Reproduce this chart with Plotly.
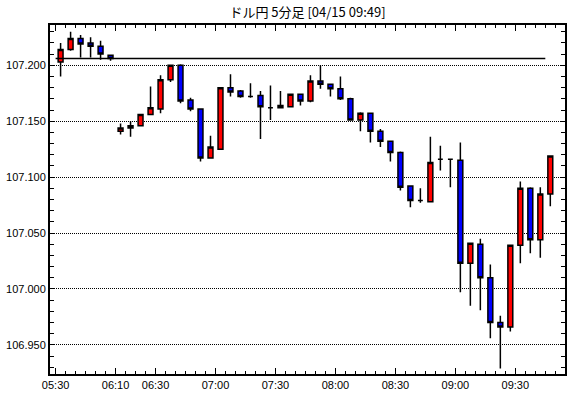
import plotly.graph_objects as go

times = ['05:30', '05:35', '05:40', '05:45', '05:50', '05:55',
         '06:10', '06:15', '06:20', '06:25', '06:30', '06:35', '06:40', '06:45', '06:50', '06:55',
         '07:00', '07:05', '07:10', '07:15', '07:20', '07:25', '07:30', '07:35', '07:40', '07:45',
         '07:50', '07:55', '08:00', '08:05', '08:10', '08:15', '08:20', '08:25', '08:30', '08:35',
         '08:40', '08:45', '08:50', '08:55', '09:00', '09:05', '09:10', '09:15', '09:20', '09:25',
         '09:30', '09:35', '09:40', '09:45']

opens = [107.203, 107.214, 107.224, 107.220, 107.217, 107.209,
         107.141, 107.144, 107.146, 107.156, 107.161, 107.187, 107.200, 107.169, 107.161, 107.117,
         107.125, 107.180, 107.177, 107.172, 107.173, 107.162, 107.162, 107.163, 107.174, 107.168,
         107.186, 107.183, 107.179, 107.170, 107.151, 107.157, 107.141, 107.132, 107.122, 107.092,
         107.079, 107.078, 107.116, 107.116, 107.115, 107.023, 107.040, 107.010, 106.970, 106.966,
         107.039, 107.090, 107.044, 107.085]
highs = [107.220, 107.230, 107.227, 107.225, 107.222, 107.209,
         107.148, 107.150, 107.156, 107.181, 107.191, 107.200, 107.201, 107.171, 107.161, 107.137,
         107.180, 107.192, 107.178, 107.184, 107.177, 107.182, 107.177, 107.174, 107.174, 107.191,
         107.200, 107.183, 107.190, 107.171, 107.158, 107.157, 107.143, 107.132, 107.123, 107.092,
         107.090, 107.136, 107.128, 107.116, 107.131, 107.041, 107.045, 107.022, 106.976, 107.039,
         107.096, 107.091, 107.091, 107.119]
lows = [107.190, 107.213, 107.207, 107.207, 107.205, 107.204,
        107.138, 107.136, 107.146, 107.156, 107.157, 107.185, 107.166, 107.159, 107.114, 107.117,
        107.125, 107.172, 107.171, 107.171, 107.134, 107.151, 107.162, 107.163, 107.164, 107.167,
        107.179, 107.172, 107.169, 107.151, 107.141, 107.131, 107.127, 107.114, 107.088, 107.073,
        107.077, 107.078, 107.106, 107.091, 106.997, 106.985, 106.981, 106.956, 106.929, 106.962,
        107.023, 107.032, 107.028, 107.074]
closes = [107.214, 107.224, 107.219, 107.217, 107.210, 107.206,
          107.144, 107.146, 107.156, 107.162, 107.187, 107.200, 107.168, 107.161, 107.117, 107.127,
          107.180, 107.176, 107.172, 107.172, 107.163, 107.162, 107.164, 107.174, 107.168, 107.186,
          107.183, 107.179, 107.170, 107.151, 107.157, 107.141, 107.132, 107.122, 107.091, 107.079,
          107.079, 107.113, 107.116, 107.116, 107.023, 107.041, 107.010, 106.970, 106.966, 107.039,
          107.090, 107.044, 107.085, 107.119]

ref_price = 107.206
tick_labels = ['05:30', '06:10', '06:30', '07:00', '07:30', '08:00', '08:30', '09:00', '09:30']
title_text = 'ドル円 5分足 [04/15 09:49]'

idx = list(range(len(times)))
tick_pos = [times.index(t) - 0.5 for t in tick_labels]

fig = go.Figure()
fig.add_trace(go.Candlestick(
    x=idx, open=opens, high=highs, low=lows, close=closes,
    increasing=dict(fillcolor='#ff0000', line=dict(color='black', width=1.5)),
    decreasing=dict(fillcolor='#0000ff', line=dict(color='black', width=1.5)),
    whiskerwidth=0, hoverinfo='skip', showlegend=False,
))
fig.add_trace(go.Scatter(
    x=[idx[0] - 0.5, idx[-1] - 0.5], y=[ref_price, ref_price], mode='lines',
    line=dict(color='black', width=1.5), hoverinfo='skip', showlegend=False,
))

tfont = dict(family='Liberation Sans, Arial, sans-serif', size=11, color='black')
fig.update_layout(
    width=570, height=398,
    margin=dict(l=50, r=5, t=25, b=24),
    plot_bgcolor='white', paper_bgcolor='white',
    showlegend=False,
    title=dict(text=title_text, x=0.5, xref='paper', xanchor='center',
               y=1 - 12 / 398, yref='container', yanchor='middle',
               font=dict(family='Noto Sans CJK JP', size=13, color='black')),
    xaxis=dict(
        range=[-1.06, 50.47], tickmode='array', tickvals=tick_pos, ticktext=tick_labels,
        ticks='inside', ticklen=6, tickwidth=1, tickcolor='black',
        showline=True, linecolor='black', linewidth=2, mirror='ticks',
        showgrid=False, zeroline=False, automargin=False,
        rangeslider=dict(visible=False), tickfont=tfont,
        minor=dict(ticks='inside', ticklen=3, tickwidth=1, tickcolor='black',
                   tick0=-0.5, dtick=1, showgrid=False),
    ),
    yaxis=dict(
        range=[106.924, 107.236], tick0=106.95, dtick=0.05, tickformat='.3f',
        ticks='inside', ticklen=5, tickwidth=1, tickcolor='black',
        showline=True, linecolor='black', linewidth=2, mirror='ticks',
        showgrid=True, gridcolor='black', gridwidth=1, griddash='1px,1px',
        zeroline=False, automargin=False, tickfont=tfont,
        minor=dict(ticks='inside', ticklen=4, tickwidth=1, tickcolor='black',
                   dtick=0.01, showgrid=False),
    ),
)

fig.write_html('out.html', config={'displayModeBar': False},
               post_script="document.body.style.margin='0';")
